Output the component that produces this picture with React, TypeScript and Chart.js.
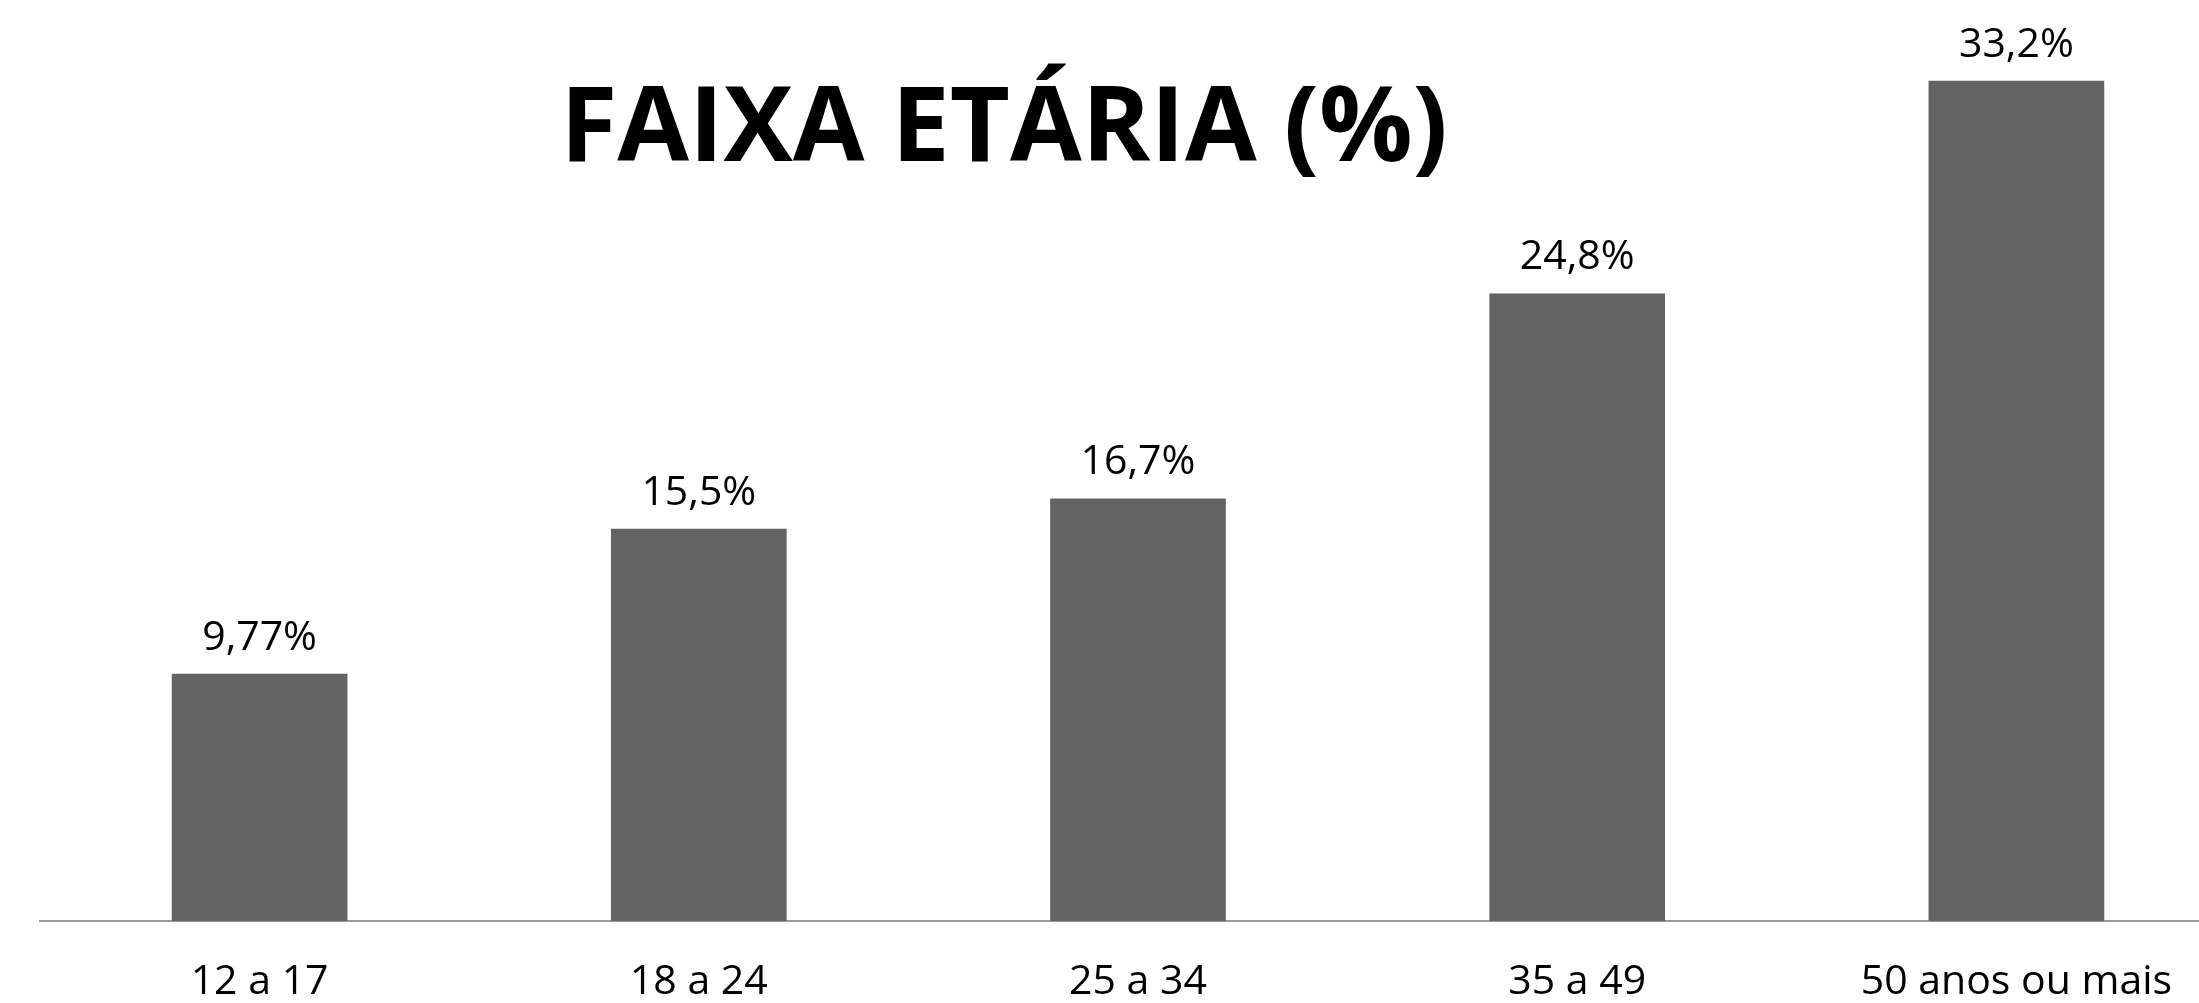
import React, { useEffect, useRef } from "react";
import { Chart, registerables } from "chart.js";

Chart.register(...registerables);

const categories: string[] = ["12 a 17", "18 a 24", "25 a 34", "35 a 49", "50 anos ou mais"];
const values: number[] = [9.77, 15.5, 16.7, 24.8, 33.2];
const titleText = "FAIXA ETÁRIA (%)";

const FONT = "'Open Sans', 'Liberation Sans', sans-serif";

const valueLabelPlugin = {
  id: "valueLabels",
  afterDatasetsDraw(chart: any) {
    const ctx = chart.ctx;
    const meta = chart.getDatasetMeta(0);
    ctx.save();
    ctx.fillStyle = "#000000";
    ctx.font = `41px ${FONT}`;
    ctx.textAlign = "center";
    ctx.textBaseline = "alphabetic";
    meta.data.forEach((bar: any, i: number) => {
      const txt = String(values[i]).replace(".", ",") + "%";
      ctx.fillText(txt, bar.x, bar.y - 24);
    });
    ctx.restore();
  },
};

const titlePlugin = {
  id: "overlayTitle",
  afterDraw(chart: any) {
    const ctx = chart.ctx;
    ctx.save();
    ctx.fillStyle = "#000000";
    ctx.font = `bold 104px ${FONT}`;
    ctx.textAlign = "center";
    ctx.textBaseline = "alphabetic";
    ctx.fillText(titleText, 1004, 161);
    ctx.restore();
  },
};

export default function App() {
  const canvasRef = useRef<HTMLCanvasElement | null>(null);

  useEffect(() => {
    if (!canvasRef.current) return;
    const chart = new Chart(canvasRef.current, {
      type: "bar",
      data: {
        labels: categories,
        datasets: [
          {
            data: values,
            backgroundColor: "#636363",
            borderWidth: 0,
            barPercentage: 0.4,
            categoryPercentage: 1,
          },
        ],
      },
      options: {
        responsive: false,
        animation: false,
        devicePixelRatio: 1,
        layout: { padding: { left: 40, right: 0, top: 10, bottom: 0 } },
        plugins: {
          legend: { display: false },
          title: { display: false },
          tooltip: { enabled: false },
        },
        scales: {
          x: {
            offset: true,
            grid: { display: false, drawTicks: false },
            border: { display: true, color: "#9a9a9a", width: 2 },
            ticks: {
              color: "#000000",
              padding: 37,
              font: { family: FONT, size: 41 },
              maxRotation: 0,
              autoSkip: false,
            },
            afterFit: (scale: any) => {
              scale.height = 82;
            },
          },
          y: {
            display: false,
            min: 0,
            max: 36,
          },
        },
      },
      plugins: [valueLabelPlugin, titlePlugin],
    });
    return () => chart.destroy();
  }, []);

  return (
    <div
      style={{
        position: "fixed",
        left: 0,
        top: 0,
        width: 2199,
        height: 1003,
        overflow: "hidden",
        background: "#ffffff",
      }}
    >
      <canvas ref={canvasRef} width={2236} height={1003} style={{ display: "block" }} />
    </div>
  );
}
